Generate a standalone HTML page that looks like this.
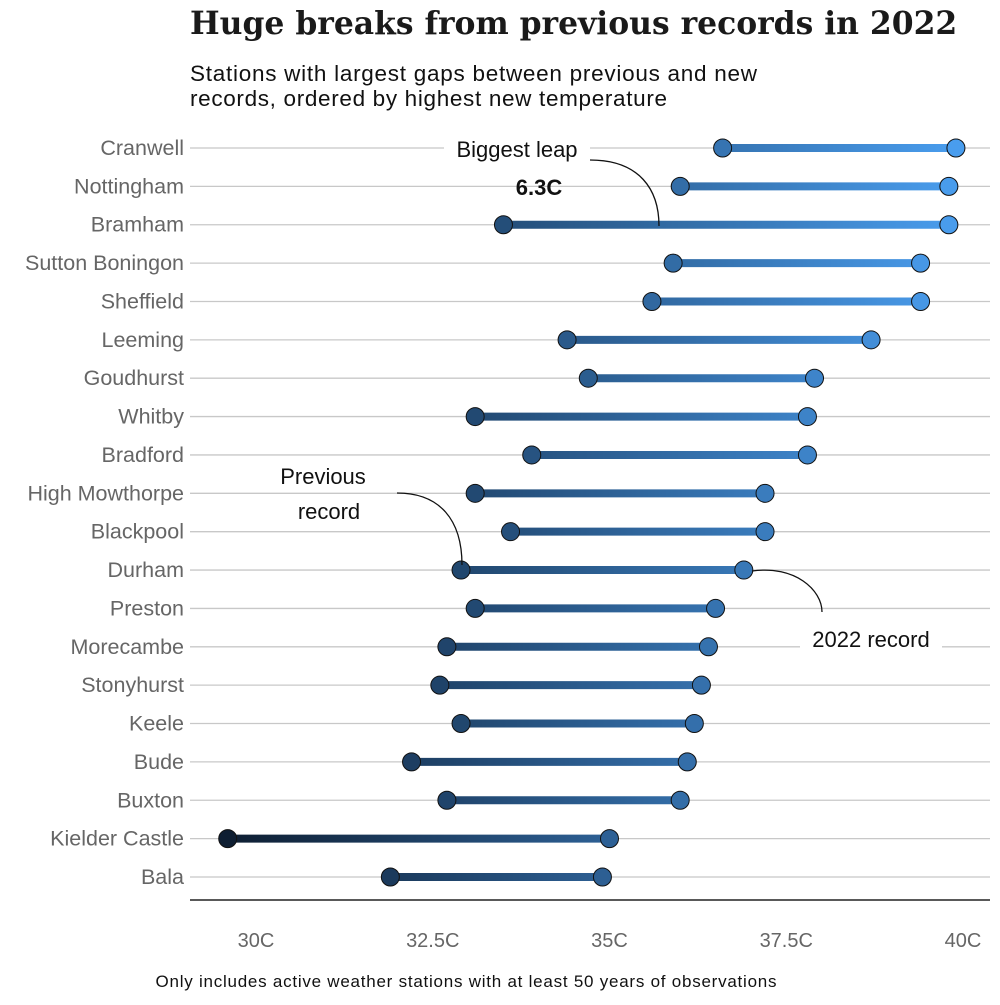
<!DOCTYPE html>
<html><head><meta charset="utf-8"><style>
body{margin:0;background:#fff;width:1000px;height:1000px;overflow:hidden;font-family:"Liberation Sans",sans-serif}
</style></head><body>
<svg id="chart" width="1000" height="1000" xmlns="http://www.w3.org/2000/svg">
<text x="190" y="34" font-family="'DejaVu Serif','Liberation Serif',serif" font-weight="bold" font-size="31.4" fill="#1a1a1a">Huge breaks from previous records in 2022</text>
<text x="190" y="81" font-size="22.5" fill="#111" textLength="567">Stations with largest gaps between previous and new</text>
<text x="190" y="106" font-size="22.5" fill="#111" textLength="477">records, ordered by highest new temperature</text>
<g id="grid"></g>
<g id="marks"></g>
<line x1="190" y1="900" x2="990" y2="900" stroke="#222" stroke-width="1.5"/>
<g id="xticks"></g>
<g>
<rect x="444" y="135" width="146" height="28" fill="#fff"/>
<text x="517" y="157" font-size="22" text-anchor="middle" fill="#111">Biggest leap</text>
<text x="539" y="195" font-size="22" font-weight="bold" text-anchor="middle" fill="#111">6.3C</text>
<path d="M590,160 C640,160 659,190 659,226" fill="none" stroke="#111" stroke-width="1.3"/>
</g>
<g>
<text x="323" y="484" font-size="22" text-anchor="middle" fill="#111">Previous</text>
<text x="329" y="519" font-size="22" text-anchor="middle" fill="#111">record</text>
<path d="M397,493 C440,493 462,520 462,565" fill="none" stroke="#111" stroke-width="1.3"/>
</g>
<g>
<rect x="800" y="625" width="142" height="30" fill="#fff"/>
<text x="871" y="647" font-size="22" text-anchor="middle" fill="#111">2022 record</text>
<path d="M752,571 C795,565 822,590 822,612" fill="none" stroke="#111" stroke-width="1.3"/>
</g>
<text x="466" y="987" font-size="17" text-anchor="middle" fill="#111" textLength="621">Only includes active weather stations with at least 50 years of observations</text>
</svg>
<script>
const stations=["Cranwell","Nottingham","Bramham","Sutton Boningon","Sheffield","Leeming","Goudhurst","Whitby","Bradford","High Mowthorpe","Blackpool","Durham","Preston","Morecambe","Stonyhurst","Keele","Bude","Buxton","Kielder Castle","Bala"];
const previousRecord=[36.6,36.0,33.5,35.9,35.6,34.4,34.7,33.1,33.9,33.1,33.6,32.9,33.1,32.7,32.6,32.9,32.2,32.7,29.6,31.9];
const newRecord=[39.9,39.8,39.8,39.4,39.4,38.7,37.9,37.8,37.8,37.2,37.2,36.9,36.5,36.4,36.3,36.2,36.1,36.0,35.0,34.9];
const tickValues=[30,32.5,35,37.5,40];
const tickLabels=["30C","32.5C","35C","37.5C","40C"];
const NS="http://www.w3.org/2000/svg";
const x=v=>256+(v-30)*70.7;
const y=i=>148+i*(877-148)/19;
function col(v){const t=Math.max(0,Math.min(1,(v-29.6)/(40-29.6)));
const a=[14,30,50],b=[74,158,240];return `rgb(${a.map((c,k)=>Math.round(c+(b[k]-c)*t)).join(',')})`;}
function mk(tag,attrs,parent){const e=document.createElementNS(NS,tag);for(const k in attrs)e.setAttribute(k,attrs[k]);parent.appendChild(e);return e;}
const grid=document.getElementById('grid'),marks=document.getElementById('marks'),xt=document.getElementById('xticks');
const defs=mk('defs',{},document.getElementById('chart'));
stations.forEach((s,i)=>{
 const gl=mk('line',{x1:190,x2:990,y1:y(i),y2:y(i),stroke:'#c8c8c8','stroke-width':1.3},grid);
 
 
 const lb=mk('text',{x:184,y:y(i)+7,'font-size':21.5,'text-anchor':'end',fill:'#666'},grid);
 lb.textContent=s;
 
 
 const g=mk('linearGradient',{id:'g'+i,gradientUnits:'userSpaceOnUse',x1:x(previousRecord[i]),x2:x(newRecord[i]),y1:0,y2:0},defs);
 mk('stop',{offset:0,'stop-color':col(previousRecord[i])},g);
 mk('stop',{offset:1,'stop-color':col(newRecord[i])},g);
 const ln=mk('line',{x1:x(previousRecord[i]),x2:x(newRecord[i]),y1:y(i),y2:y(i),stroke:'url(#g'+i+')','stroke-width':8},marks);
 
 
 const p=mk('circle',{cx:x(previousRecord[i]),cy:y(i),r:9,fill:col(previousRecord[i]),stroke:'#111','stroke-width':1},marks);
 
 
 const n=mk('circle',{cx:x(newRecord[i]),cy:y(i),r:9,fill:col(newRecord[i]),stroke:'#111','stroke-width':1},marks);
 
 
});
tickValues.forEach((v,i)=>{
 const t=mk('text',{x:x(v),y:947,'font-size':20,'text-anchor':'middle',fill:'#666'},xt);
 t.textContent=tickLabels[i];
 
 
});
</script>
</body></html>
